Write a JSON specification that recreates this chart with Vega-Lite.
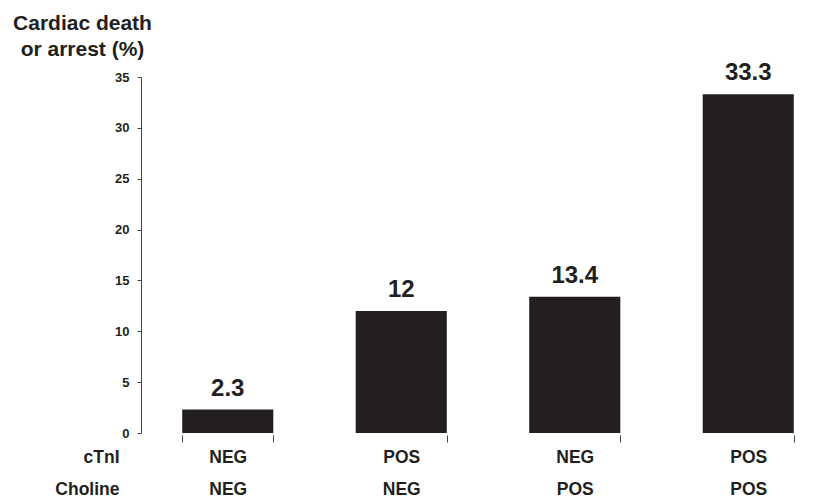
{
  "$schema": "https://vega.github.io/schema/vega-lite/v6.json",
  "autosize": "none",
  "padding": {"left": 141, "top": 77, "right": 0, "bottom": 65},
  "width": 682,
  "height": 356,
  "background": "white",
  "config": {
    "view": {"stroke": null},
    "font": "Liberation Sans"
  },
  "data": {
    "values": [
      {"group": "NEG|NEG", "value": 2.3, "label": "2.3"},
      {"group": "POS|NEG", "value": 12, "label": "12"},
      {"group": "NEG|POS", "value": 13.4, "label": "13.4"},
      {"group": "POS|POS", "value": 33.3, "label": "33.3"}
    ]
  },
  "encoding": {
    "x": {
      "field": "group",
      "type": "nominal",
      "sort": null,
      "scale": {"range": [0, 694], "paddingInner": 0.475, "paddingOuter": 0.2375},
      "axis": {
        "orient": "bottom",
        "domain": false,
        "ticks": true,
        "tickBand": "extent",
        "tickSize": 7,
        "tickColor": "#444444",
        "tickWidth": 1,
        "offset": 2,
        "labelAngle": 0,
        "labelExpr": "split(datum.label, '|')",
        "labelFont": "Liberation Sans",
        "labelFontWeight": "bold",
        "labelFontSize": 17.5,
        "labelColor": "#231f20",
        "labelLineHeight": 32,
        "labelPadding": 6,
        "labelBaseline": "top",
        "title": ["cTnI", "Choline"],
        "titleAngle": 0,
        "titleAlign": "right",
        "titleBaseline": "top",
        "titleX": -22,
        "titleY": 13,
        "titleFont": "Liberation Sans",
        "titleFontWeight": "bold",
        "titleFontSize": 17.5,
        "titleColor": "#231f20",
        "titleLineHeight": 32
      }
    },
    "y": {
      "field": "value",
      "type": "quantitative",
      "scale": {"domain": [0, 35], "nice": false},
      "axis": {
        "values": [0, 5, 10, 15, 20, 25, 30, 35],
        "grid": false,
        "domainColor": "#444444",
        "tickColor": "#444444",
        "tickSize": 4,
        "labelPadding": 8,
        "labelFont": "Liberation Sans",
        "labelFontWeight": "bold",
        "labelFontSize": 13,
        "labelColor": "#231f20",
        "title": ["Cardiac death", "or arrest (%)"],
        "titleAngle": 0,
        "titleAlign": "center",
        "titleBaseline": "alphabetic",
        "titleX": -59,
        "titleY": -48,
        "titleFont": "Liberation Sans",
        "titleFontWeight": "bold",
        "titleFontSize": 21,
        "titleColor": "#231f20",
        "titleLineHeight": 26
      }
    }
  },
  "layer": [
    {"mark": {"type": "bar", "color": "#231f20"}},
    {
      "mark": {"type": "text", "dy": -14, "baseline": "alphabetic", "fontSize": 24, "fontWeight": "bold", "color": "#231f20", "font": "Liberation Sans"},
      "encoding": {"text": {"field": "label"}}
    }
  ]
}
